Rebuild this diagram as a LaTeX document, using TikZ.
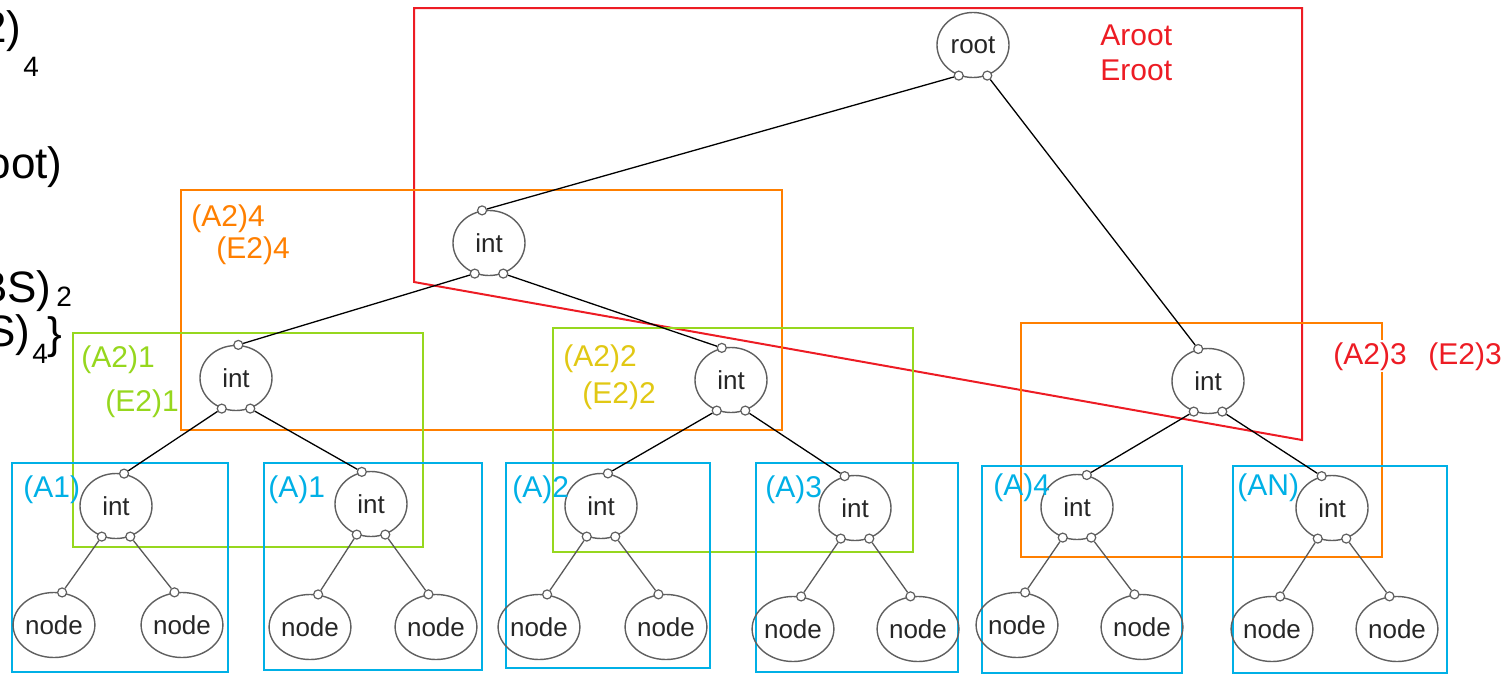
\documentclass[tikz,border=0pt]{standalone}
\usepackage{fontspec}
\setmainfont{Liberation Sans}
\usetikzlibrary{shapes.geometric}
\definecolor{cred}{RGB}{237,28,36}
\definecolor{corange}{RGB}{255,127,0}
\definecolor{cgreen}{RGB}{150,215,30}
\definecolor{cblue}{RGB}{0,176,230}
\definecolor{cyellow}{RGB}{225,200,20}
\definecolor{cnode}{RGB}{95,95,95}
% bottom ports of a tree node, and its top port at a given angle
\newcommand\bports[1]{\node[port] (#1-l) at (#1.245) {};\node[port] (#1-r) at (#1.295) {};}
\newcommand\tport[2]{\node[port] (#1-t) at (#1.#2) {};}
\begin{document}
\begin{tikzpicture}[x=0.5pt,y=-0.5pt,
  tn/.style={ellipse, draw=cnode, line width=0.7pt, minimum width=36pt,
    minimum height=32.5pt, inner sep=0pt, font=\fontsize{13}{13}\selectfont, text=black!85},
  port/.style={circle, draw=cnode, fill=white, line width=0.6pt,
    minimum size=4.5pt, inner sep=0pt},
  edge/.style={black, line width=0.65pt},
  leafedge/.style={black!65, line width=0.65pt},
  box/.style={line width=1pt},
  lab/.style={anchor=base west, inner sep=0pt, font=\fontsize{15}{15}\selectfont},
  big/.style={anchor=base east, inner sep=0pt, font=\fontsize{22}{22}\selectfont},
  bigw/.style={anchor=base west, inner sep=0pt, font=\fontsize{22}{22}\selectfont},
  sub/.style={anchor=south west, inner sep=0pt, font=\fontsize{14}{14}\selectfont}]
\useasboundingbox (0,0) rectangle (1512,675);
\clip (0,0) rectangle (1512,675);

% text running in from the left edge
\node[big] (t1) at (22,42) {2)};
\node[sub] (t1s) at (23,77) {4};
\node[big] (t2) at (63,178) {oot)};
\node[big] (t3) at (52,302) {BS)};
\node[sub] (t3s) at (56,307) {2};
\node[big] (t4) at (31,346) {S)};
\node[sub] (t4s) at (32,364) {4};
\node[bigw] (t4b) at (47,348) {\}};

% group frames
\draw[box, cred] (414,282) -- (414,8) -- (1302,8) -- (1302,440) -- cycle;
\draw[box, corange] (181,190) rectangle (782,430);
\draw[box, corange] (1021,323) rectangle (1382,557);
\draw[box, cgreen] (73,333) rectangle (423,547);
\draw[box, cgreen] (553,328) rectangle (913,552);
\draw[box, cblue] (12,463) rectangle (228,672);
\draw[box, cblue] (264,463) rectangle (482,670);
\draw[box, cblue] (506,463) rectangle (710,668);
\draw[box, cblue] (756,463) rectangle (958,672);
\draw[box, cblue] (982,466) rectangle (1182,673);
\draw[box, cblue] (1233,466) rectangle (1447,673);

% tree nodes
\node[tn] (root) at (973,45) {root};
\node[tn] (i2) at (489,243) {int};
\node[tn] (i3a) at (236,378) {int};
\node[tn] (i3b) at (731,380) {int};
\node[tn] (i3c) at (1208,381) {int};
\node[tn] (g1) at (116,506) {int};
\node[tn] (g2) at (371,504) {int};
\node[tn] (g3) at (601,506) {int};
\node[tn] (g4) at (855,508) {int};
\node[tn] (g5) at (1077,507) {int};
\node[tn] (g6) at (1332,508) {int};
\node[tn] (g1a) at (54,625) {node};
\node[tn] (g1b) at (182,625) {node};
\node[tn] (g2a) at (310,627) {node};
\node[tn] (g2b) at (436,627) {node};
\node[tn] (g3a) at (539,627) {node};
\node[tn] (g3b) at (666,627) {node};
\node[tn] (g4a) at (793,629) {node};
\node[tn] (g4b) at (918,629) {node};
\node[tn] (g5a) at (1017,625) {node};
\node[tn] (g5b) at (1142,627) {node};
\node[tn] (g6a) at (1272,629) {node};
\node[tn] (g6b) at (1397,629) {node};

% ports
\bports{root}
\bports{i2}\tport{i2}{102}
\bports{i3a}\tport{i3a}{86}
\bports{i3b}\tport{i3b}{106}
\bports{i3c}\tport{i3c}{107}
\bports{g1}\tport{g1}{76}
\bports{g2}\tport{g2}{106}
\bports{g3}\tport{g3}{78}
\bports{g4}\tport{g4}{108}
\bports{g5}\tport{g5}{73}
\bports{g6}\tport{g6}{108}
\foreach \g in {g1,g2,g3,g4,g5,g6}{
  \tport{\g a}{76}
  \tport{\g b}{103}
}

% connectors
\draw[edge] (root-l) -- (i2-t);
\draw[edge] (root-r) -- (i3c-t);
\draw[edge] (i2-l) -- (i3a-t);
\draw[edge] (i2-r) -- (i3b-t);
\draw[edge] (i3a-l) -- (g1-t);
\draw[edge] (i3a-r) -- (g2-t);
\draw[edge] (i3b-l) -- (g3-t);
\draw[edge] (i3b-r) -- (g4-t);
\draw[edge] (i3c-l) -- (g5-t);
\draw[edge] (i3c-r) -- (g6-t);
\foreach \g in {g1,g2,g3,g4,g5,g6}{
  \draw[leafedge] (\g-l) -- (\g a-t);
  \draw[leafedge] (\g-r) -- (\g b-t);
}

% group labels
\node[lab, text=cred] (lar) at (1100,45) {Aroot};
\node[lab, text=cred] (ler) at (1100,80) {Eroot};
\node[lab, text=corange] (la24) at (191,226) {(A2)4};
\node[lab, text=corange] (le24) at (216,258) {(E2)4};
\node[lab, text=cgreen] (la21) at (81,367) {(A2)1};
\node[lab, text=cgreen] (le21) at (105,411) {(E2)1};
\node[lab, text=cyellow] (la22) at (563,366) {(A2)2};
\node[lab, text=cyellow] (le22) at (582,403) {(E2)2};
\node[lab, text=cred, fill=white, inner sep=1pt] (la23) at (1331,364) {(A2)3};
\node[lab, text=cred] (le23) at (1428,364) {(E2)3};
\node[lab, text=cblue] (la1) at (23,497) {(A1)};
\node[lab, text=cblue] (lb1) at (268,497) {(A)1};
\node[lab, text=cblue] (lb2) at (512,497) {(A)2};
\node[lab, text=cblue] (lb3) at (765,497) {(A)3};
\node[lab, text=cblue] (lb4) at (993,495) {(A)4};
\node[lab, text=cblue] (lbn) at (1237,495) {(AN)};
\end{tikzpicture}
\end{document}
